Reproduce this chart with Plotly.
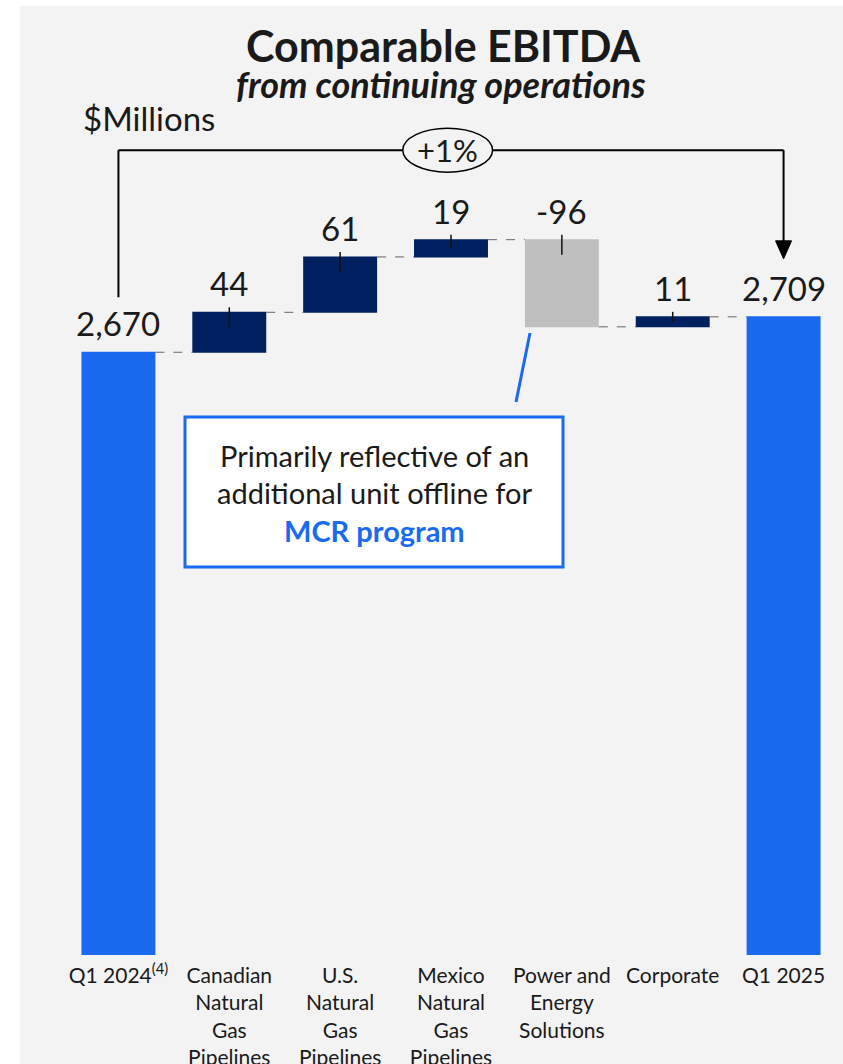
import plotly.graph_objects as go

# ---- data ($ millions) ----
categories = ["Q1 2024", "Canadian Natural Gas Pipelines", "U.S. Natural Gas Pipelines",
              "Mexico Natural Gas Pipelines", "Power and Energy Solutions", "Corporate", "Q1 2025"]
tick_labels = ["Q1 2024<sup>(4)</sup>", "Canadian<br>Natural<br>Gas<br>Pipelines",
               "U.S.<br>Natural<br>Gas<br>Pipelines", "Mexico<br>Natural<br>Gas<br>Pipelines",
               "Power and<br>Energy<br>Solutions", "Corporate", "Q1 2025"]
values = [2670, 44, 61, 19, -96, 11, 2709]
measures = ["absolute", "relative", "relative", "relative", "relative", "relative", "total"]
value_labels = ["2,670", "44", "61", "19", "-96", "11", "2,709"]
change_label = "+1%"

# ---- layout constants ----
W, H = 843, 1064
ML, MR, MT, MB = 63, 4, 20, 109
Y_MIN, Y_MAX = 2006, 3036
PX_PER_UNIT = (H - MT - MB) / (Y_MAX - Y_MIN)
STEP = (W - ML - MR) / len(categories)

TOTAL_BLUE = "#1A6AF0"
NAVY = "#002060"
GREY = "#BFBFBF"
BG = "#F3F3F3"
INK = "#1A1A1A"
FONT = "Lato"


def fx(px):
    return (px - ML) / (W - ML - MR)


def fy(py):
    return (H - MB - py) / (H - MT - MB)


def units(px):
    return px / PX_PER_UNIT


def val_px(v):
    return H - MB - (v - Y_MIN) * PX_PER_UNIT


def cat_px(i):
    return ML + (i + 0.5) * STEP


fig = go.Figure()
fig.add_trace(go.Waterfall(
    x=categories,
    y=values,
    measure=measures,
    increasing=dict(marker=dict(color=NAVY)),
    decreasing=dict(marker=dict(color=GREY)),
    totals=dict(marker=dict(color=TOTAL_BLUE)),
    connector=dict(mode="between", line=dict(color="#666666", width=1, dash="dash")),
    textinfo="none",
    hoverinfo="skip",
))

# bar extents from the running total
tops, bottoms = [], []
running = 0
for v, m in zip(values, measures):
    if m == "absolute":
        start, running = 0, v
    elif m == "total":
        start = 0
    else:
        start, running = running, running + v
    tops.append(max(start, running))
    bottoms.append(min(start, running))

shapes = []
annotations = []

# grey panel behind the chart
shapes.append(dict(type="rect", xref="paper", yref="paper", layer="below",
                   x0=fx(20), x1=fx(W + 5), y0=fy(6), y1=fy(H + 5),
                   fillcolor=BG, line=dict(width=0)))

# value labels and leader ticks
for i, (lab, top, bot, m) in enumerate(zip(value_labels, tops, bottoms, measures)):
    annotations.append(dict(x=i, y=top, xref="x", yref="y", text=lab, showarrow=False,
                            xanchor="center", yanchor="bottom", yshift=7,
                            font=dict(family=FONT, size=33, color=INK)))
    if m == "relative":
        depth = min(units(15), (top - bot) / 2)
        shapes.append(dict(type="line", xref="x", yref="y", x0=i, x1=i,
                           y0=top + units(5), y1=top - depth,
                           line=dict(color="#111111", width=1.5)))

# +1% bracket with arrow into the final bar
br_y = tops[0] + units(202)
tip_v = tops[6] + units(58)
ell_cx, ell_rx, ell_ry = 2.97, 0.405, units(22)
shapes.append(dict(type="line", xref="x", yref="y", x0=0, x1=0,
                   y0=tops[0] + units(55), y1=br_y, line=dict(color="black", width=2)))
shapes.append(dict(type="line", xref="x", yref="y", x0=0, x1=ell_cx - ell_rx,
                   y0=br_y, y1=br_y, line=dict(color="black", width=2)))
shapes.append(dict(type="line", xref="x", yref="y", x0=ell_cx + ell_rx, x1=6,
                   y0=br_y, y1=br_y, line=dict(color="black", width=2)))
shapes.append(dict(type="line", xref="x", yref="y", x0=6, x1=6,
                   y0=br_y, y1=tip_v + units(12), line=dict(color="black", width=2)))
ax_px, tip_py = cat_px(6), val_px(tip_v)
shapes.append(dict(type="path", xref="paper", yref="paper",
                   path=(f"M {fx(ax_px)} {fy(tip_py)} "
                         f"L {fx(ax_px - 8)} {fy(tip_py - 18)} "
                         f"L {fx(ax_px + 8)} {fy(tip_py - 18)} Z"),
                   fillcolor="black", line=dict(color="black", width=1)))
shapes.append(dict(type="circle", xref="x", yref="y",
                   x0=ell_cx - ell_rx, x1=ell_cx + ell_rx,
                   y0=br_y - ell_ry, y1=br_y + ell_ry,
                   fillcolor=BG, line=dict(color="black", width=1.5)))
annotations.append(dict(x=ell_cx, y=br_y, xref="x", yref="y", text=change_label,
                        showarrow=False, xanchor="center", yanchor="middle",
                        font=dict(family=FONT, size=31, color=INK)))

# callout for Power and Energy Solutions
shapes.append(dict(type="line", xref="paper", yref="paper",
                   x0=fx(516), y0=fy(402), x1=fx(530), y1=fy(333),
                   line=dict(color=TOTAL_BLUE, width=3)))
shapes.append(dict(type="rect", xref="paper", yref="paper",
                   x0=fx(185), x1=fx(563), y0=fy(567), y1=fy(417),
                   fillcolor="white", line=dict(color=TOTAL_BLUE, width=3)))
callout_lines = [("Primarily reflective of an", INK, False),
                 ("additional unit offline for", INK, False),
                 ("MCR program", TOTAL_BLUE, True)]
for (txt, col, bold), py in zip(callout_lines, [455, 492, 530]):
    annotations.append(dict(x=fx(374), y=fy(py), xref="paper", yref="paper",
                            text=f"<b>{txt}</b>" if bold else txt, showarrow=False,
                            xanchor="center", yanchor="middle",
                            font=dict(family=FONT, size=29, color=col)))

# titles
annotations.append(dict(x=fx(443), y=fy(45), xref="paper", yref="paper",
                        text="<b>Comparable EBITDA</b>", showarrow=False,
                        xanchor="center", yanchor="middle",
                        font=dict(family=FONT, size=43, color=INK)))
annotations.append(dict(x=fx(441), y=fy(84), xref="paper", yref="paper",
                        text="<b><i>from continuing operations</i></b>", showarrow=False,
                        xanchor="center", yanchor="middle",
                        font=dict(family=FONT, size=36, color=INK)))
annotations.append(dict(x=fx(81), y=fy(118), xref="paper", yref="paper",
                        text="$Millions", showarrow=False,
                        xanchor="left", yanchor="middle",
                        font=dict(family=FONT, size=33, color=INK)))

fig.update_layout(
    width=W, height=H,
    margin=dict(l=ML, r=MR, t=MT, b=MB, autoexpand=False),
    paper_bgcolor="white",
    plot_bgcolor="rgba(0,0,0,0)",
    waterfallgap=0.333,
    showlegend=False,
    shapes=shapes,
    annotations=annotations,
    xaxis=dict(tickmode="array", tickvals=categories, ticktext=tick_labels,
               showgrid=False, showline=False, zeroline=False, ticks="",
               automargin=False, ticklabelstandoff=6,
               tickfont=dict(family=FONT, size=21, color=INK)),
    yaxis=dict(range=[Y_MIN, Y_MAX], visible=False, showgrid=False, automargin=False),
)

fig.write_html("out.html")
